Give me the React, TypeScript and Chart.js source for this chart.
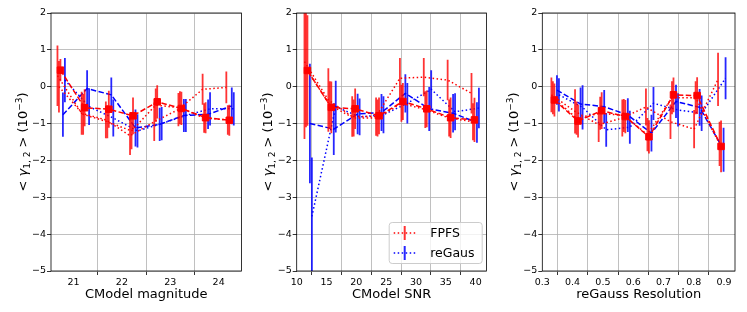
import React, { useEffect, useRef } from 'react';
import { Chart, registerables } from 'chart.js';
Chart.register(...registerables);

// ---------------- data ----------------
const yTicks = [-5, -4, -3, -2, -1, 0, 1, 2];
const magTicks = [21, 22, 23, 24];
const snrTicks = [10, 15, 20, 25, 30, 35, 40];
const resTicks = [0.3, 0.4, 0.5, 0.6, 0.7, 0.8, 0.9];

// Panel 1: CModel magnitude
const magBins = [20.73, 21.23, 21.73, 22.23, 22.73, 23.23, 23.73, 24.22];
const magFpfsMean = [0.45, -0.57, -0.61, -0.79, -0.41, -0.59, -0.84, -0.91];
const magFpfsMeanErr = [0.3, 0.5, 0.5, 0.5, 0.45, 0.45, 0.42, 0.42];
const magFpfsA = [0.3, -0.72, -0.9, -1.33, -0.95, -0.62, -0.07, -0.02];
const magFpfsAErr = [0.82, 0.58, 0.5, 0.52, 0.52, 0.45, 0.42, 0.43];
const magFpfsB = [0.0, -0.75, -0.95, -1.2, -0.5, -0.57, -0.85, -0.9];
const magFpfsBErr = [0.7, 0.55, 0.45, 0.5, 0.45, 0.45, 0.4, 0.4];
const magRegDash = [-0.76, -0.05, -0.22, -1.12, -1.02, -0.78, -0.75, -0.52];
const magRegDashErr = [0.6, 0.5, 0.47, 0.5, 0.45, 0.45, 0.4, 0.5];
const magRegDot = [0.18, -0.54, -0.85, -1.2, -1.0, -0.78, -0.6, -0.6];
const magRegDotErr = [0.6, 0.5, 0.5, 0.45, 0.45, 0.45, 0.45, 0.45];

// Panel 2: CModel SNR
const snrBins = [11.8, 15.8, 19.8, 23.8, 27.8, 31.8, 35.8, 39.8];
const snrFpfsMean = [0.44, -0.56, -0.6, -0.79, -0.4, -0.6, -0.84, -0.9];
const snrFpfsMeanErr = [1.5, 0.7, 0.55, 0.5, 0.5, 0.5, 0.55, 0.6];
const snrFpfsA = [0.68, -0.36, -0.81, -0.81, 0.23, 0.26, 0.18, -0.18];
const snrFpfsAErr = [2.1, 0.86, 0.55, 0.52, 0.55, 0.52, 0.55, 0.55];
const snrFpfsB = [0.5, -0.5, -0.85, -0.85, -0.45, -0.62, -0.85, -0.95];
const snrFpfsBErr = [1.6, 0.65, 0.5, 0.5, 0.5, 0.5, 0.5, 0.5];
const snrRegDash = [-1.0, -1.15, -0.74, -0.7, -0.18, -0.6, -0.72, -0.97];
const snrRegDashErr = [1.62, 0.7, 0.55, 0.5, 0.52, 0.6, 0.52, 0.55];
const snrRegDot = [-3.52, -0.54, -0.82, -0.76, -0.45, -0.07, -0.68, -0.58];
const snrRegDotErr = [1.6, 0.7, 0.5, 0.5, 0.55, 0.52, 0.5, 0.55];

// Panel 3: reGauss Resolution
const resBins = [0.34, 0.418, 0.496, 0.574, 0.652, 0.733, 0.811, 0.89];
const resFpfsMean = [-0.36, -0.93, -0.65, -0.81, -1.36, -0.22, -0.24, -1.62];
const resFpfsMeanErr = [0.45, 0.45, 0.5, 0.45, 0.45, 0.47, 0.5, 0.7];
const resFpfsA = [-0.22, -0.67, -1.03, -0.85, -0.55, -0.95, -1.15, 0.2];
const resFpfsAErr = [0.47, 0.6, 0.47, 0.5, 0.5, 0.47, 0.52, 0.72];
const resFpfsB = [-0.3, -0.85, -0.72, -0.78, -1.3, -0.3, -0.3, -1.55];
const resFpfsBErr = [0.45, 0.45, 0.45, 0.45, 0.45, 0.45, 0.45, 0.6];
const resRegDash = [-0.09, -0.47, -0.54, -0.77, -1.26, -0.4, -0.56, -1.71];
const resRegDashErr = [0.4, 0.45, 0.45, 0.46, 0.5, 0.45, 0.5, 0.6];
const resRegDot = [-0.22, -0.56, -1.17, -1.1, -0.45, -0.63, -0.72, 0.23];
const resRegDotErr = [0.45, 0.6, 0.46, 0.45, 0.45, 0.45, 0.48, 0.57];

const legendLabels = ['FPFS', 'reGaus'];
const xTitles = ['CModel magnitude', 'CModel SNR', 'reGauss Resolution'];

// ---------------- styles ----------------
const RED = '#ff0000';
const BLUE = '#0000ff';
const RED_ERR = 'rgba(255,0,0,0.8)';
const BLUE_ERR = 'rgba(0,0,255,0.85)';
const DASH = [5.5, 2.4];
const DOT = [1.5, 2.5];
const FONT = '"DejaVu Sans", sans-serif';

type Series = { y: number[]; err: number[]; color: string; errColor: string; dash: number[]; marker: boolean; shift: number; order: number };

function makeSeries(fMean: number[], fMeanE: number[], fA: number[], fAE: number[], fB: number[], fBE: number[], rD: number[], rDE: number[], rT: number[], rTE: number[]): Series[] {
  return [
    { y: rT, err: rTE, color: BLUE, errColor: BLUE_ERR, dash: DOT, marker: false, shift: 4.5, order: 10 },
    { y: rD, err: rDE, color: BLUE, errColor: BLUE_ERR, dash: DASH, marker: false, shift: 2.5, order: 8 },
    { y: fB, err: fBE, color: RED, errColor: RED_ERR, dash: DOT, marker: false, shift: -1.5, order: 6 },
    { y: fA, err: fAE, color: RED, errColor: RED_ERR, dash: DOT, marker: false, shift: -3, order: 4 },
    { y: fMean, err: fMeanE, color: RED, errColor: RED_ERR, dash: DASH, marker: true, shift: 0, order: 2 },
  ];
}

type Panel = {
  canvasLeft: number; canvasWidth: number; axisWidth: number; padRight: number;
  xmin: number; xmax: number; ticks: number[]; bins: number[]; series: Series[];
  title: string; legend: boolean; fmt: (v: number) => string;
};

const PLOT_W = 192;

const panels: Panel[] = [
  {
    canvasLeft: 0, canvasWidth: 247, axisWidth: 51, padRight: 4,
    xmin: 20.535, xmax: 24.47, ticks: magTicks, bins: magBins,
    series: makeSeries(magFpfsMean, magFpfsMeanErr, magFpfsA, magFpfsAErr, magFpfsB, magFpfsBErr, magRegDash, magRegDashErr, magRegDot, magRegDotErr),
    title: xTitles[0], legend: false, fmt: (v) => String(v),
  },
  {
    canvasLeft: 247, canvasWidth: 245, axisWidth: 49.7, padRight: 4.3,
    xmin: 10, xmax: 41.8, ticks: snrTicks, bins: snrBins,
    series: makeSeries(snrFpfsMean, snrFpfsMeanErr, snrFpfsA, snrFpfsAErr, snrFpfsB, snrFpfsBErr, snrRegDash, snrRegDashErr, snrRegDot, snrRegDotErr),
    title: xTitles[1], legend: true, fmt: (v) => String(v),
  },
  {
    canvasLeft: 492, canvasWidth: 255, axisWidth: 50.3, padRight: 12,
    xmin: 0.3, xmax: 0.936, ticks: resTicks, bins: resBins,
    series: makeSeries(resFpfsMean, resFpfsMeanErr, resFpfsA, resFpfsAErr, resFpfsB, resFpfsBErr, resRegDash, resRegDashErr, resRegDot, resRegDotErr),
    title: xTitles[2], legend: false, fmt: (v) => v.toFixed(1),
  },
];

function drawYTitle(ctx: CanvasRenderingContext2D, cx: number, cy: number) {
  const main = `13px ${FONT}`;
  const ital = `italic 13px ${FONT}`;
  const small = `9px ${FONT}`;
  const parts = [
    { t: '< ', f: main, dy: 0 },
    { t: '\u03b3', f: ital, dy: 0 },
    { t: '1, 2', f: small, dy: 3 },
    { t: ' > (10', f: main, dy: 0 },
    { t: '\u22123', f: small, dy: -5 },
    { t: ')', f: main, dy: 0 },
  ];
  ctx.save();
  ctx.translate(cx, cy);
  ctx.rotate(-Math.PI / 2);
  ctx.fillStyle = '#000';
  ctx.textBaseline = 'alphabetic';
  ctx.textAlign = 'left';
  let total = 0;
  const widths = parts.map((p) => { ctx.font = p.f; const w = ctx.measureText(p.t).width; total += w; return w; });
  let x = -total / 2;
  parts.forEach((p, i) => { ctx.font = p.f; ctx.fillText(p.t, x, 4.5 + p.dy); x += widths[i]; });
  ctx.restore();
}

function drawLegend(ctx: CanvasRenderingContext2D, right: number, bottom: number) {
  const w = 93, h = 41;
  const x = right - 4.7 - w, y = bottom - 8 - h;
  ctx.save();
  ctx.beginPath();
  (ctx as any).roundRect(x + 0.5, y + 0.5, w, h, 3);
  ctx.fillStyle = 'rgba(255,255,255,0.8)';
  ctx.fill();
  ctx.strokeStyle = '#cccccc';
  ctx.lineWidth = 1;
  ctx.stroke();
  const entries = [{ c: RED, e: RED_ERR }, { c: BLUE, e: BLUE_ERR }];
  entries.forEach((en, i) => {
    const ry = y + 11 + i * 20;
    ctx.setLineDash(DOT);
    ctx.strokeStyle = en.c;
    ctx.lineWidth = 1.5;
    ctx.beginPath(); ctx.moveTo(x + 5, ry); ctx.lineTo(x + 27, ry); ctx.stroke();
    ctx.setLineDash([]);
    ctx.strokeStyle = en.e;
    ctx.lineWidth = 2;
    ctx.beginPath(); ctx.moveTo(x + 16, ry - 7); ctx.lineTo(x + 16, ry + 7); ctx.stroke();
    ctx.fillStyle = '#000';
    ctx.font = `12.5px ${FONT}`;
    ctx.textBaseline = 'middle';
    ctx.fillText(legendLabels[i], x + 41.5, ry + 0.5);
  });
  ctx.restore();
}

function PanelChart({ p }: { p: Panel }) {
  const ref = useRef<HTMLCanvasElement>(null);
  useEffect(() => {
    const canvas = ref.current!;
    const pxUnit = (p.xmax - p.xmin) / PLOT_W;
    const datasets: any[] = [];
    p.series.forEach((s) => {
      datasets.push({
        type: 'bar',
        data: p.bins.map((b, k) => ({ x: b + s.shift * pxUnit, y: [s.y[k] - s.err[k], s.y[k] + s.err[k]] })),
        backgroundColor: s.errColor,
        borderWidth: 0,
        grouped: false,
        categoryPercentage: 1,
        barPercentage: 40,
        maxBarThickness: 1.8,
        order: s.order + 1,
      });
      datasets.push({
        type: 'line',
        data: p.bins.map((b, k) => ({ x: b + s.shift * pxUnit, y: s.y[k] })),
        borderColor: s.color,
        backgroundColor: s.color,
        borderDash: s.dash,
        borderWidth: 1.5,
        pointRadius: s.marker ? 4.6 : 0,
        pointStyle: 'rect',
        pointBorderWidth: 1,
        pointBackgroundColor: s.color,
        pointBorderColor: s.color,
        fill: false,
        tension: 0,
        order: s.order,
      });
    });

    const deco = {
      id: 'deco',
      afterDraw(chart: any) {
        const { ctx, chartArea: ca } = chart;
        ctx.save();
        ctx.strokeStyle = '#000';
        ctx.lineWidth = 0.8;
        ctx.strokeRect(ca.left, ca.top, ca.right - ca.left, ca.bottom - ca.top);
        ctx.fillStyle = '#000';
        ctx.font = `13px ${FONT}`;
        ctx.textAlign = 'center';
        ctx.textBaseline = 'middle';
        ctx.fillText(p.title, (ca.left + ca.right) / 2, ca.bottom + 24);
        ctx.restore();
        drawYTitle(ctx, ca.left - 29, (ca.top + ca.bottom) / 2);
        if (p.legend) drawLegend(ctx, ca.right, ca.bottom);
      },
    };

    const chart = new Chart(canvas, {
      type: 'line',
      data: { datasets },
      options: {
        animation: false,
        responsive: false,
        maintainAspectRatio: false,
        events: [],
        layout: { padding: { top: 13, right: p.padRight, left: 0, bottom: 0 } },
        plugins: { legend: { display: false }, tooltip: { enabled: false } },
        scales: {
          x: {
            type: 'linear',
            min: p.xmin,
            max: p.xmax,
            offset: false,
            afterBuildTicks: (s: any) => { s.ticks = p.ticks.map((v) => ({ value: v })); },
            afterFit: (s: any) => { s.height = 41; },
            grid: { color: '#b0b0b0', lineWidth: 0.8, drawTicks: true, tickLength: 4, tickColor: '#000', tickWidth: 0.8 },
            border: { display: false },
            ticks: { color: '#000', font: { family: FONT, size: 9.5 }, padding: 1.5, maxRotation: 0, autoSkip: false, callback: (v: any) => p.fmt(Number(v)) },
          },
          y: {
            type: 'linear',
            min: -5,
            max: 2,
            afterBuildTicks: (s: any) => { s.ticks = yTicks.map((v) => ({ value: v })); },
            afterFit: (s: any) => { s.width = p.axisWidth; },
            grid: { color: '#b0b0b0', lineWidth: 0.8, drawTicks: true, tickLength: 4, tickColor: '#000', tickWidth: 0.8 },
            border: { display: false },
            ticks: { color: '#000', font: { family: FONT, size: 9.5 }, padding: 1, callback: (v: any) => (Number(v) < 0 ? '\u2212' + Math.abs(Number(v)) : String(v)) },
          },
        },
      },
      plugins: [deco],
    } as any);
    return () => chart.destroy();
  }, [p]);
  return (
    <canvas
      ref={ref}
      width={p.canvasWidth}
      height={312}
      style={{ position: 'absolute', left: p.canvasLeft, top: 0, width: p.canvasWidth, height: 312 }}
    />
  );
}

export default function App() {
  return (
    <div style={{ position: 'fixed', left: 0, top: 0, width: 747, height: 312, background: '#fff' }}>
      {panels.map((p, i) => <PanelChart key={i} p={p} />)}
    </div>
  );
}
